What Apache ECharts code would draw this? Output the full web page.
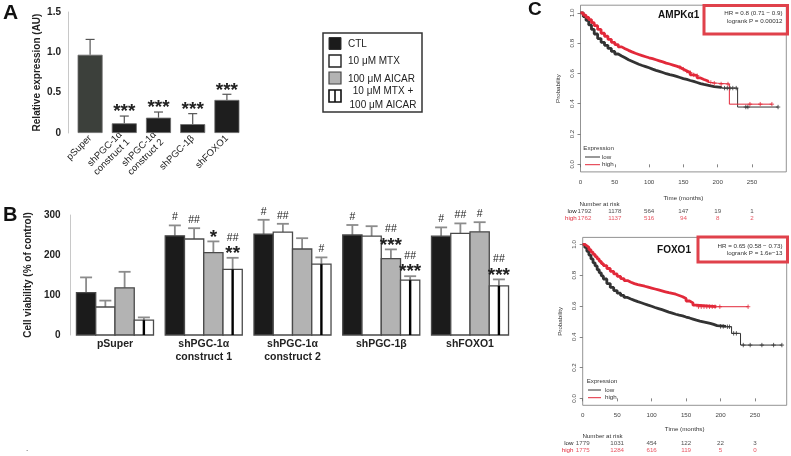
<!DOCTYPE html>
<html><head><meta charset="utf-8">
<script src="https://cdn.jsdelivr.net/npm/echarts@6/dist/echarts.min.js"></script>
<style>html,body{margin:0;padding:0;background:#fff}#c{width:791px;height:456px}</style>
</head><body><div id="c"></div>
<script>
const FONT = "'Liberation Sans', Arial, Helvetica, sans-serif";

// ---------- Panel A data ----------
const aCategories = ['pSuper', 'shPGC-1α\nconstruct 1', 'shPGC-1α\nconstruct 2', 'shPGC-1β', 'shFOXO1'];
const aValues = [0.97, 0.12, 0.19, 0.11, 0.41];
const aErrorTops = [1.16, 0.21, 0.26, 0.24, 0.48];
const aSignif = ['', '***', '***', '***', '***'];
const aTicks = [0, 0.5, 1.0, 1.5];

// ---------- Panel B data ----------
const bCategories = ['pSuper', 'shPGC-1α\nconstruct 1', 'shPGC-1α\nconstruct 2', 'shPGC-1β', 'shFOXO1'];
const bTreatments = ['CTL', '10 μM MTX', '100 μM AICAR', '10 μM MTX +\n100 μM AICAR'];
const bCTL = [106, 248, 252, 250, 247];
const bCTLErr = [144, 274, 288, 275, 269];
const bCTLMarks = ['', '#', '#', '#', '#'];
const bMTX = [70, 240, 257, 247, 254];
const bMTXErr = [86, 267, 278, 272, 279];
const bMTXMarks = ['', '##', '##', '', '##'];
const bAICAR = [118, 206, 215, 191, 258];
const bAICARErr = [158, 234, 242, 214, 282];
const bAICARMarks = ['', '*', '', '##\n***', '#'];
const bCombo = [37, 164, 177, 137, 123];
const bComboErr = [44, 193, 194, 147, 139];
const bComboMarks = ['', '##\n**', '#', '##\n***', '##\n***'];
const bTicks = [0, 100, 200, 300];

// ---------- Panel C data (Kaplan-Meier) ----------
const kmTimeTicks = [0, 50, 100, 150, 200, 250];
const kmProbTicks = [0, 0.2, 0.4, 0.6, 0.8, 1.0];

const ampkLow = [[0,1],[4,0.975],[8,0.95],[12,0.92],[16,0.89],[20,0.86],[25,0.83],[30,0.805],[35,0.785],[40,0.765],[45,0.745],[50,0.728],[55,0.715],[60,0.703],[65,0.69],[70,0.68],[75,0.67],[80,0.66],[85,0.652],[90,0.645],[95,0.637],[100,0.628],[105,0.62],[110,0.613],[115,0.606],[120,0.598],[125,0.592],[130,0.587],[135,0.58],[140,0.573],[145,0.566],[150,0.56],[155,0.553],[160,0.547],[165,0.54],[170,0.533],[175,0.527],[180,0.522],[185,0.517],[190,0.513],[195,0.508],[205,0.503]];
const ampkLowTail = [[205,0.503],[229,0.378],[288,0.378]];
const ampkLowCensor = [[210,0.503],[214,0.503],[218,0.503],[222,0.503],[227,0.503],[241,0.378],[244,0.378],[288,0.378]];
const ampkHigh = [[0,1],[4,0.985],[8,0.97],[12,0.955],[16,0.935],[20,0.915],[25,0.89],[30,0.865],[35,0.845],[40,0.825],[45,0.805],[50,0.79],[55,0.775],[60,0.763],[65,0.752],[70,0.742],[75,0.733],[80,0.725],[85,0.717],[90,0.71],[95,0.703],[100,0.697],[105,0.69],[110,0.683],[115,0.676],[120,0.668],[125,0.662],[130,0.655],[135,0.648],[140,0.64],[145,0.628],[150,0.615],[155,0.605],[160,0.59],[165,0.585],[170,0.57],[175,0.56],[180,0.55],[186,0.54]];
const ampkHighTail = [[186,0.54],[190,0.535],[200,0.53],[217,0.397],[279,0.397]];
const ampkHighCensor = [[145,0.64],[150,0.628],[155,0.615],[160,0.605],[165,0.59],[170,0.585],[190,0.54],[195,0.535],[205,0.53],[215,0.53],[247,0.397],[262,0.397],[279,0.397]];
const ampkRiskLow = [1792, 1178, 564, 147, 19, 1];
const ampkRiskHigh = [1762, 1137, 516, 94, 8, 2];

const foxoLow = [[0,1],[3,0.98],[6,0.955],[9,0.93],[12,0.905],[15,0.88],[18,0.86],[21,0.835],[24,0.815],[27,0.795],[30,0.775],[35,0.745],[40,0.72],[45,0.70],[50,0.683],[55,0.668],[60,0.655],[65,0.645],[70,0.636],[75,0.628],[80,0.621],[85,0.613],[90,0.605],[95,0.598],[100,0.59],[105,0.583],[110,0.576],[115,0.568],[120,0.56],[125,0.553],[130,0.546],[135,0.54],[140,0.535],[145,0.528],[150,0.522],[155,0.515],[160,0.508],[165,0.502],[170,0.497],[175,0.492],[180,0.487],[185,0.48],[190,0.472],[195,0.467],[208,0.465]];
const foxoLowTail = [[208,0.465],[216,0.422],[229,0.346],[289,0.346]];
const foxoLowCensor = [[200,0.467],[204,0.467],[210,0.465],[213,0.465],[219,0.422],[223,0.422],[233,0.346],[243,0.346],[260,0.346],[277,0.346],[289,0.346]];
const foxoHigh = [[0,1],[3,0.99],[6,0.98],[9,0.965],[12,0.95],[15,0.935],[18,0.92],[21,0.905],[24,0.89],[27,0.875],[30,0.862],[35,0.843],[40,0.825],[45,0.808],[50,0.792],[55,0.778],[60,0.765],[65,0.754],[70,0.745],[75,0.738],[80,0.733],[85,0.728],[90,0.722],[95,0.716],[100,0.71],[105,0.704],[110,0.698],[115,0.692],[120,0.686],[125,0.681],[130,0.676],[135,0.668],[140,0.66],[145,0.648],[150,0.632],[155,0.62],[160,0.605],[165,0.595],[194,0.595]];
const foxoHighTail = [[194,0.595],[240,0.595]];
const foxoHighCensor = [[168,0.595],[172,0.595],[176,0.595],[180,0.595],[184,0.595],[188,0.595],[192,0.595],[199,0.595],[240,0.595]];
const foxoRiskLow = [1779, 1031, 454, 122, 22, 3];
const foxoRiskHigh = [1775, 1284, 616, 119, 5, 0];

// ---------- rendering ----------
const chart = echarts.init(document.getElementById('c'));
const RED = '#e2293a', DARK = '#333333';
const B_FILLS = ['#1b1b1b', '#ffffff', '#b3b3b3', '#ffffff'];

function aErrorRender(params, api) {
  const i = api.value(0);
  const xc = api.coord([i, 0])[0];
  const yBar = api.coord([i, api.value(2)])[1];
  const yErr = api.coord([i, api.value(1)])[1];
  const ch = [
    {type:'line', shape:{x1:xc, y1:yBar, x2:xc, y2:yErr}, style:{stroke:'#555', lineWidth:1.2}},
    {type:'line', shape:{x1:xc-4.5, y1:yErr, x2:xc+4.5, y2:yErr}, style:{stroke:'#555', lineWidth:1.2}}
  ];
  const m = aSignif[params.dataIndex];
  if (m) ch.push({type:'text', x:xc, y:yErr-4, style:{text:m, fontSize:19, fontWeight:'bold', fontFamily:FONT, fill:'#222', align:'center', verticalAlign:'middle'}});
  return {type:'group', children:ch};
}

function makeBRender(j, marks) {
  return function (params, api) {
    const i = api.value(0);
    const base = api.coord([i, 0]);
    const band = api.size([1, 0])[0];
    const gw = band * 0.868, bw = gw / 4;
    const x0 = base[0] - gw / 2 + j * bw;
    const xc = x0 + bw / 2;
    const yTop = api.coord([i, api.value(1)])[1];
    const yErr = api.coord([i, api.value(2)])[1];
    const ch = [
      {type:'line', shape:{x1:xc, y1:yTop, x2:xc, y2:yErr}, style:{stroke:'#8c8c8c', lineWidth:1.8}},
      {type:'line', shape:{x1:xc-6, y1:yErr, x2:xc+6, y2:yErr}, style:{stroke:'#8c8c8c', lineWidth:1.8}},
      {type:'rect', shape:{x:x0, y:yTop, width:bw, height:base[1]-yTop}, style:{fill:B_FILLS[j], stroke:'#4a4a4a', lineWidth:1.3}}
    ];
    if (j === 3) ch.push({type:'line', shape:{x1:xc, y1:yTop, x2:xc, y2:base[1]}, style:{stroke:'#000', lineWidth:2.4}});
    const m = marks[params.dataIndex];
    if (m) {
      const lines = m.split('\n');
      let y = yErr;
      for (let k = lines.length - 1; k >= 0; k--) {
        const t = lines[k];
        const star = t[0] === '*';
        const cy = star ? y - 4 : y - 8;
        y = star ? cy - 8 : cy - 4;
        ch.push({type:'text', x:xc, y:cy, style:{text:t, fontSize: star ? 19 : 10.5, fontWeight: star ? 'bold' : 'normal', fontFamily:FONT, fill:'#222', align:'center', verticalAlign:'middle'}});
      }
    }
    return {type:'group', children:ch};
  };
}

function censorRender(color) {
  return function (params, api) {
    const p = api.coord([api.value(0), api.value(1)]);
    return {type:'group', children:[
      {type:'line', shape:{x1:p[0]-2.2, y1:p[1], x2:p[0]+2.2, y2:p[1]}, style:{stroke:color, lineWidth:0.8}},
      {type:'line', shape:{x1:p[0], y1:p[1]-2.2, x2:p[0], y2:p[1]+2.2}, style:{stroke:color, lineWidth:0.8}}
    ]};
  };
}

function kmLine(data, color, width, gi) {
  return {type:'line', data:data, step:'end', showSymbol:false, symbol:'none', xAxisIndex:gi, yAxisIndex:gi,
    lineStyle:{color:color, width:width}, itemStyle:{color:color}, silent:true, z:3};
}
function kmCensor(data, color, gi) {
  return {type:'custom', data:data, xAxisIndex:gi, yAxisIndex:gi, renderItem:censorRender(color), silent:true, z:4};
}
function kmRisk(values, rowY, color, gi, firstShift) {
  return {type:'scatter', xAxisIndex:gi, yAxisIndex:gi, symbolSize:0, clip:false, silent:true,
    data: kmTimeTicks.map((t, k) => ({value:[t, rowY], label:{offset:[k === 0 ? firstShift : 0, 0]}})),
    label:{show:true, position:'inside', formatter:(p) => String(values[p.dataIndex]), fontSize:6.2, color:color, fontFamily:FONT}};
}

function kmX(gi, max, nameGap) {
  return {type:'value', gridIndex:gi, min:0, max:max, name:'Time (months)', nameLocation:'middle', nameGap:nameGap,
    nameTextStyle:{fontSize:6.2, color:'#333', fontFamily:FONT},
    axisLine:{show:false}, splitLine:{show:false},
    axisTick:{show:true, length:3, lineStyle:{color:'#666', width:0.8}, customValues:kmTimeTicks},
    axisLabel:{fontSize:6.2, color:'#444', margin:7, customValues:kmTimeTicks, fontFamily:FONT}};
}
function kmY(gi, min, max) {
  return {type:'value', gridIndex:gi, min:min, max:max, name:'Probability', nameLocation:'middle', nameGap:19,
    nameTextStyle:{fontSize:6.2, color:'#333', fontFamily:FONT},
    axisLine:{show:false}, splitLine:{show:false},
    axisTick:{show:true, length:3, lineStyle:{color:'#666', width:0.8}, customValues:kmProbTicks},
    axisLabel:{fontSize:6.2, color:'#444', margin:5, rotate:90, customValues:kmProbTicks, formatter:(v) => v.toFixed(1), fontFamily:FONT}};
}

const bSeriesSpec = [
  [bCTL, bCTLErr, bCTLMarks], [bMTX, bMTXErr, bMTXMarks], [bAICAR, bAICARErr, bAICARMarks], [bCombo, bComboErr, bComboMarks]
];

const txt = (x, y, text, o) => ({type:'text', x:x, y:y, silent:true, style:Object.assign({text:text, fontFamily:FONT, fontSize:10, fill:'#222', align:'left', verticalAlign:'middle'}, o || {})});

const graphic = [
  txt(3, 13, 'A', {fontSize:21, fontWeight:'bold', fill:'#111'}),
  txt(3, 215, 'B', {fontSize:20, fontWeight:'bold', fill:'#111'}),
  txt(528, 10, 'C', {fontSize:19, fontWeight:'bold', fill:'#111'}),
  txt(26, 449, '.', {fontSize:8}),
  // legend for A/B
  {type:'rect', shape:{x:323, y:33, width:99, height:79}, style:{fill:'#fff', stroke:'#333', lineWidth:1.5}},
  {type:'rect', shape:{x:329, y:37.5, width:12, height:12}, style:{fill:B_FILLS[0], stroke:'#333', lineWidth:1}},
  {type:'rect', shape:{x:329, y:55, width:12, height:12}, style:{fill:B_FILLS[1], stroke:'#222', lineWidth:1.4}},
  {type:'rect', shape:{x:329, y:72, width:12, height:12}, style:{fill:B_FILLS[2], stroke:'#444', lineWidth:1.2}},
  {type:'rect', shape:{x:329, y:90, width:12, height:12}, style:{fill:B_FILLS[3], stroke:'#111', lineWidth:1.6}},
  {type:'line', shape:{x1:335, y1:90, x2:335, y2:102}, style:{stroke:'#111', lineWidth:1.6}},
  txt(348, 44, bTreatments[0]),
  txt(348, 61.5, bTreatments[1]),
  txt(348, 79, bTreatments[2]),
  txt(383, 98, bTreatments[3], {align:'center', lineHeight:14}),
  // KM top annotations
  txt(678.7, 15.5, 'AMPKα1', {fontSize:10, fontWeight:'bold', align:'center', fill:'#111'}),
  {type:'rect', shape:{x:704, y:5.5, width:83.5, height:28.5}, style:{fill:'none', stroke:'#e0414b', lineWidth:3}},
  txt(782.5, 13.5, 'HR = 0.8 (0.71 − 0.9)', {fontSize:6.2, align:'right', fill:'#333'}),
  txt(782.5, 21, 'logrank P = 0.00012', {fontSize:6.2, align:'right', fill:'#333'}),
  txt(583.3, 148.7, 'Expression', {fontSize:6.2, fill:'#333'}),
  {type:'line', shape:{x1:585, y1:157, x2:600, y2:157}, style:{stroke:DARK, lineWidth:1}},
  {type:'line', shape:{x1:585, y1:164.7, x2:600, y2:164.7}, style:{stroke:RED, lineWidth:1}},
  txt(602, 157, 'low', {fontSize:6.2, fill:'#333'}),
  txt(602, 164.7, 'high', {fontSize:6.2, fill:'#333'}),
  txt(599.5, 204, 'Number at risk', {fontSize:6.2, align:'center', fill:'#333'}),
  txt(576.7, 211.3, 'low', {fontSize:6.2, align:'right', fill:'#222'}),
  txt(576.7, 218.3, 'high', {fontSize:6.2, align:'right', fill:RED}),
  // KM bottom annotations
  txt(674, 250, 'FOXO1', {fontSize:10, fontWeight:'bold', align:'center', fill:'#111'}),
  {type:'rect', shape:{x:698, y:237, width:89.5, height:25}, style:{fill:'none', stroke:'#e0414b', lineWidth:3}},
  txt(782.5, 246, 'HR = 0.65 (0.58 − 0.73)', {fontSize:6.2, align:'right', fill:'#333'}),
  txt(782.5, 253.7, 'logrank P = 1.6e−13', {fontSize:6.2, align:'right', fill:'#333'}),
  txt(586.7, 381, 'Expression', {fontSize:6.2, fill:'#333'}),
  {type:'line', shape:{x1:588, y1:390, x2:601, y2:390}, style:{stroke:DARK, lineWidth:1}},
  {type:'line', shape:{x1:588, y1:397.7, x2:601, y2:397.7}, style:{stroke:RED, lineWidth:1}},
  txt(605, 390, 'low', {fontSize:6.2, fill:'#333'}),
  txt(605, 397.7, 'high', {fontSize:6.2, fill:'#333'}),
  txt(602.5, 436, 'Number at risk', {fontSize:6.2, align:'center', fill:'#333'}),
  txt(573.5, 443.3, 'low', {fontSize:6.2, align:'right', fill:'#222'}),
  txt(573.5, 450.3, 'high', {fontSize:6.2, align:'right', fill:RED})
];

const option = {
  animation:false,
  textStyle:{fontFamily:FONT},
  grid:[
    {left:73, top:12, width:171, height:121},
    {left:70.6, top:215, width:443.8, height:120},
    {left:580.5, top:5.2, width:205.8, height:166.7, show:true, borderColor:'#777', borderWidth:0.8},
    {left:582.7, top:237.4, width:204, height:167.9, show:true, borderColor:'#777', borderWidth:0.8}
  ],
  xAxis:[
    {type:'category', gridIndex:0, data:aCategories, axisLine:{show:false}, axisTick:{show:false},
      axisLabel:{interval:0, rotate:45, fontSize:9.5, lineHeight:10.5, margin:4, color:'#222'}},
    {type:'category', gridIndex:1, data:bCategories, axisLine:{show:false}, axisTick:{show:false},
      axisLabel:{interval:0, fontSize:10.5, fontWeight:'bold', lineHeight:12.5, margin:3, color:'#222'}},
    kmX(2, 300, 23),
    kmX(3, 296, 21)
  ],
  yAxis:[
    {type:'value', gridIndex:0, min:aTicks[0], max:aTicks[aTicks.length-1], interval:0.5, offset:5,
      name:'Relative expression (AU)', nameLocation:'middle', nameGap:26, nameTextStyle:{fontSize:10, fontWeight:'bold', color:'#222'},
      axisLine:{show:true, lineStyle:{color:'#c8c8c8', width:1}}, axisTick:{show:false}, splitLine:{show:false},
      axisLabel:{fontSize:10, fontWeight:'bold', color:'#222', margin:7, formatter:(v) => v === 0 ? '0' : v.toFixed(1)}},
    {type:'value', gridIndex:1, min:bTicks[0], max:bTicks[bTicks.length-1], interval:100,
      name:'Cell viability (% of control)', nameLocation:'middle', nameGap:33, nameTextStyle:{fontSize:10, fontWeight:'bold', color:'#222'},
      axisLine:{show:true, lineStyle:{color:'#c8c8c8', width:1}}, axisTick:{show:false}, splitLine:{show:false},
      axisLabel:{fontSize:10, fontWeight:'bold', color:'#222', margin:10}},
    kmY(2, -0.05, 1.05),
    kmY(3, -0.045, 1.045)
  ],
  series:[
    {type:'bar', xAxisIndex:0, yAxisIndex:0, data:aValues, barWidth:25,
      itemStyle:{color:(p) => p.dataIndex === 0 ? '#3c403b' : '#1e1e1e', borderColor:'#6a6a6a', borderWidth:0.8}},
    {type:'custom', xAxisIndex:0, yAxisIndex:0, renderItem:aErrorRender,
      data:aCategories.map((c, i) => [i, aErrorTops[i], aValues[i]]), z:3}
  ].concat(bSeriesSpec.map((s, j) => ({
      type:'custom', name:bTreatments[j], xAxisIndex:1, yAxisIndex:1, renderItem:makeBRender(j, s[2]),
      data:bCategories.map((c, i) => [i, s[0][i], s[1][i]])
  }))).concat([
    kmLine(ampkLow, DARK, 2.8, 2), kmLine(ampkLowTail, DARK, 1, 2), kmCensor(ampkLowCensor, DARK, 2),
    kmLine(ampkHigh, RED, 2.8, 2), kmLine(ampkHighTail, RED, 1, 2), kmCensor(ampkHighCensor, RED, 2),
    kmRisk(ampkRiskLow, -0.31, '#222', 2, 4), kmRisk(ampkRiskHigh, -0.356, RED, 2, 4),
    kmLine(foxoLow, DARK, 2.8, 3), kmLine(foxoLowTail, DARK, 1, 3), kmCensor(foxoLowCensor, DARK, 3),
    kmLine(foxoHigh, RED, 2.8, 3), kmLine(foxoHighTail, RED, 1, 3), kmCensor(foxoHighCensor, RED, 3),
    kmRisk(foxoRiskLow, -0.292, '#222', 3, 0), kmRisk(foxoRiskHigh, -0.338, RED, 3, 0)
  ]),
  graphic:graphic
};
chart.setOption(option);
</script></body></html>
